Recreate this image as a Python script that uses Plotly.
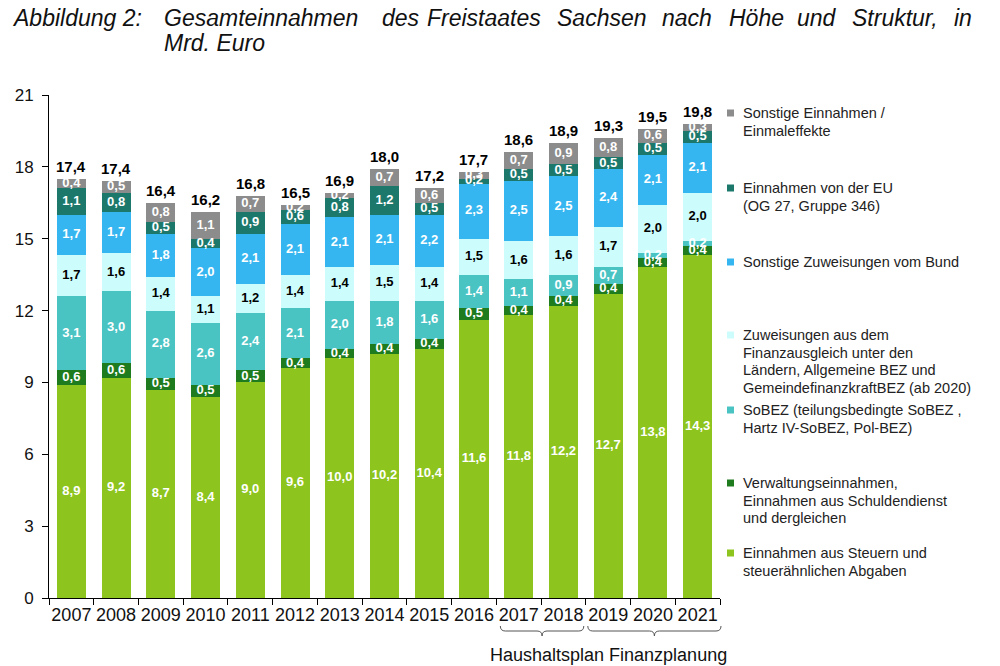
import plotly.graph_objects as go

years = ["2007", "2008", "2009", "2010", "2011", "2012", "2013", "2014",
         "2015", "2016", "2017", "2018", "2019", "2020", "2021"]

steuern = [8.9, 9.2, 8.7, 8.4, 9.0, 9.6, 10.0, 10.2, 10.4, 11.6, 11.8, 12.2, 12.7, 13.8, 14.3]
verwaltung = [0.6, 0.6, 0.5, 0.5, 0.5, 0.4, 0.4, 0.4, 0.4, 0.5, 0.4, 0.4, 0.4, 0.4, 0.4]
sobez = [3.1, 3.0, 2.8, 2.6, 2.4, 2.1, 2.0, 1.8, 1.6, 1.4, 1.1, 0.9, 0.7, 0.2, 0.2]
finanzausgleich = [1.7, 1.6, 1.4, 1.1, 1.2, 1.4, 1.4, 1.5, 1.4, 1.5, 1.6, 1.6, 1.7, 2.0, 2.0]
bund = [1.7, 1.7, 1.8, 2.0, 2.1, 2.1, 2.1, 2.1, 2.2, 2.3, 2.5, 2.5, 2.4, 2.1, 2.1]
eu = [1.1, 0.8, 0.5, 0.4, 0.9, 0.6, 0.8, 1.2, 0.5, 0.2, 0.5, 0.5, 0.5, 0.5, 0.5]
sonstige = [0.4, 0.5, 0.8, 1.1, 0.7, 0.2, 0.2, 0.7, 0.6, 0.3, 0.7, 0.9, 0.8, 0.6, 0.3]
totals = [17.4, 17.4, 16.4, 16.2, 16.8, 16.5, 16.9, 18.0, 17.2, 17.7, 18.6, 18.9, 19.3, 19.5, 19.8]

series_names = [
    "Einnahmen aus Steuern und\nsteuerähnlichen Abgaben",
    "Verwaltungseinnahmen,\nEinnahmen aus Schuldendienst\nund dergleichen",
    "SoBEZ (teilungsbedingte SoBEZ ,\nHartz IV-SoBEZ, Pol-BEZ)",
    "Zuweisungen aus dem\nFinanzausgleich unter den\nLändern, Allgemeine BEZ und\nGemeindefinanzkraftBEZ (ab 2020)",
    "Sonstige Zuweisungen vom Bund",
    "Einnahmen von der EU\n(OG 27, Gruppe 346)",
    "Sonstige Einnahmen /\nEinmaleffekte",
]
series_values = [steuern, verwaltung, sobez, finanzausgleich, bund, eu, sonstige]
colors = ["#8DC41E", "#1E7B1E", "#4AC3C3", "#CCFCFC", "#36B6F0", "#1D786C", "#8C8C8C"]
label_colors = ["white", "white", "white", "black", "white", "white", "white"]

title_line1 = [("Abbildung 2:", 10), ("Gesamteinnahmen", 162), ("des", 380), ("Freistaates", 425),
               ("Sachsen", 555), ("nach", 660), ("Höhe", 727), ("und", 795), ("Struktur,", 850), ("in", 952)]
title_line2 = "Mrd. Euro"
brace_text = "Haushaltsplan Finanzplanung"

fmt = lambda v: f"{v:.1f}".replace(".", ",")

FONT = "Liberation Sans, Arial, sans-serif"

# page geometry (the page body has an 8px margin)
OFF = 8
W, H = 1000 - OFF, 666 - OFF
X0, X1, Y0, Y1 = 49, 720, 95, 598          # plot area in page pixels
L, T = X0 - OFF, Y0 - OFF
R, B = W - (X1 - OFF), H - (Y1 - OFF)
PW, PH = X1 - X0, Y1 - Y0


def px(x):
    return (x - X0) / PW


def py(y):
    return (Y1 - y) / PH


fig = go.Figure()
base = [0.0] * len(years)
for name, vals, col, lc in zip(series_names, series_values, colors, label_colors):
    fig.add_trace(go.Bar(x=years, y=vals, name=name.replace("\n", " "),
                         marker=dict(color=col, line=dict(width=0)),
                         showlegend=False, hoverinfo="skip"))
    mids = [b + v / 2 for b, v in zip(base, vals)]
    fig.add_trace(go.Scatter(x=years, y=mids, mode="text", text=[fmt(v) for v in vals],
                             textfont=dict(family=FONT, size=13, color=lc, weight="bold"),
                             showlegend=False, hoverinfo="skip"))
    base = [b + v for b, v in zip(base, vals)]

annotations = []
shapes = []

# totals above the bars (category index on the x axis)
for i, (top, tot) in enumerate(zip(base, totals)):
    annotations.append(dict(text=fmt(tot), x=i, y=top, xref="x", yref="y", xanchor="center",
                            yanchor="bottom", yshift=2, showarrow=False,
                            font=dict(family=FONT, size=15, color="black", weight="bold")))

for word, x in title_line1:
    annotations.append(dict(text=f"<i>{word}</i>", x=px(x), y=py(18), xref="paper", yref="paper",
                            xanchor="left", yanchor="middle", showarrow=False,
                            font=dict(family=FONT, size=23, color="#111")))
annotations.append(dict(text=f"<i>{title_line2}</i>", x=px(162), y=py(43), xref="paper", yref="paper",
                        xanchor="left", yanchor="middle", showarrow=False,
                        font=dict(family=FONT, size=23, color="#111")))

# legend (custom, top to bottom), each line placed separately
legend_y = [113, 188, 262, 335, 410, 483, 553]
LINE = 17.7
for i, yy in enumerate(legend_y):
    k = len(series_names) - 1 - i
    for j, line in enumerate(series_names[k].split("\n")):
        annotations.append(dict(text=line, x=px(741), y=py(yy + j * LINE),
                                xref="paper", yref="paper", xanchor="left", yanchor="middle",
                                showarrow=False,
                                font=dict(family=FONT, size=14.5, color="#222")))
    shapes.append(dict(type="rect", xref="paper", yref="paper", x0=px(727), x1=px(734),
                       y0=py(yy + 3.5), y1=py(yy - 3.5), fillcolor=colors[k], line=dict(width=0)))


# braces
def brace(x0, x1):
    xm = (x0 + x1) / 2
    pts = (f"M {px(x0)},{py(626)} Q {px(x0)},{py(631)} {px(x0 + 5)},{py(631)} L {px(xm - 5)},{py(631)} "
           f"Q {px(xm)},{py(631)} {px(xm)},{py(636)} Q {px(xm)},{py(631)} {px(xm + 5)},{py(631)} "
           f"L {px(x1 - 5)},{py(631)} Q {px(x1)},{py(631)} {px(x1)},{py(626)}")
    return dict(type="path", path=pts, xref="paper", yref="paper", line=dict(color="#555", width=1))


step = PW / len(years)
shapes.append(brace(X0 + 10 * step + 4, X0 + 12 * step - 2))
shapes.append(brace(X0 + 12 * step + 2, X0 + 15 * step + 1))
annotations.append(dict(text=brace_text, x=px(488), y=py(655), xref="paper", yref="paper",
                        xanchor="left", yanchor="middle", showarrow=False,
                        font=dict(family=FONT, size=18, color="#111")))

fig.update_layout(
    width=W, height=H, barmode="stack", bargap=0.35,
    margin=dict(l=L, r=R, t=T, b=B, autoexpand=False),
    paper_bgcolor="white", plot_bgcolor="white",
    annotations=annotations, shapes=shapes,
    xaxis=dict(type="category", range=[-0.5, len(years) - 0.5], showline=True, linecolor="black",
               linewidth=1, ticks="outside",
               tickson="boundaries", ticklen=6, tickcolor="black", showgrid=False, tickangle=0,
               tickfont=dict(family=FONT, size=18, color="#111")),
    yaxis=dict(range=[0, 21], tickvals=list(range(0, 22, 3)), showline=True, linecolor="black", linewidth=1,
               ticks="outside", ticklen=6, tickcolor="black", showgrid=False, zeroline=False,
               ticklabelstandoff=5,
               tickfont=dict(family=FONT, size=17, color="#111")),
)

fig.write_html("out.html")
